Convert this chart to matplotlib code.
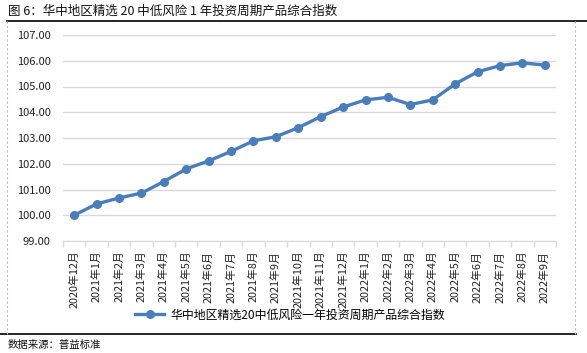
import matplotlib
matplotlib.use("Agg")
from matplotlib import pyplot as plt
from matplotlib.lines import Line2D

plt.rcParams['font.family'] = ['Noto Sans CJK SC', 'DejaVu Sans']

# ───────── DATA ───────── #
months = ["2020年12月", "2021年1月", "2021年2月", "2021年3月", "2021年4月", "2021年5月",
          "2021年6月", "2021年7月", "2021年8月", "2021年9月", "2021年10月", "2021年11月",
          "2021年12月", "2022年1月", "2022年2月", "2022年3月", "2022年4月", "2022年5月",
          "2022年6月", "2022年7月", "2022年8月", "2022年9月"]
index_values = [100.00, 100.44, 100.67, 100.86, 101.31, 101.80,
                102.11, 102.48, 102.89, 103.05, 103.40, 103.83,
                104.20, 104.48, 104.58, 104.30, 104.48, 105.10,
                105.57, 105.81, 105.92, 105.83]
y_ticks = [99, 100, 101, 102, 103, 104, 105, 106, 107]
series_name = "华中地区精选20中低风险一年投资周期产品综合指数"
title = "图 6：华中地区精选 20 中低风险 1 年投资周期产品综合指数"
source = "数据来源：普益标准"
# ──────────────────────── #

W, H = 587, 353
fig = plt.figure(figsize=(W / 100, H / 100), dpi=100)

line_color = "#4a7ebb"
grid_color = "#d9d9d9"

ax = fig.add_axes([63 / W, 1 - 241 / H, (556 - 63) / W, (241 - 35) / H])
x = list(range(len(months)))
ax.plot(x, index_values, color=line_color, lw=2.4, marker="o", ms=5.5, zorder=3)

ax.set_ylim(99, 107)
ax.set_xlim(-0.5, len(months) - 0.5)
ax.set_yticks(y_ticks)
ax.set_yticklabels([f"{v:.2f}" for v in y_ticks], fontsize=8, color="#222222")
ax.tick_params(axis="y", length=0, pad=9)
ax.grid(axis="y", color=grid_color, lw=1)
ax.set_axisbelow(True)

ax.set_xticks(x)
ax.set_xticklabels(months, rotation=90, fontsize=7.8, color="#222222")
ax.tick_params(axis="x", length=0, pad=7)
ax.set_xticks([i - 0.5 for i in range(len(months) + 1)], minor=True)
ax.tick_params(axis="x", which="minor", length=4, color=grid_color, width=1)

for s in ["top", "right", "left"]:
    ax.spines[s].set_visible(False)
ax.spines["bottom"].set_color(grid_color)

# legend
handle = Line2D([], [], color=line_color, lw=2.4, marker="o", ms=5.5)
fig.legend([handle], [series_name], loc="center", bbox_to_anchor=(290 / W, 1 - 315 / H),
           frameon=False, fontsize=8.6, handlelength=2.4, handletextpad=0.5)

# frame lines
fig.add_artist(Line2D([7 / W, 1], [1 - 21 / H] * 2, color="black", lw=1.2))
fig.add_artist(Line2D([0, 576 / W], [1 - 334 / H] * 2, color="black", lw=1.2))
fig.add_artist(Line2D([7 / W] * 2, [1 - 21 / H, 1 - 334 / H], color="#bbbbbb", lw=0.8, ls=(0, (2, 2))))
fig.add_artist(Line2D([575 / W] * 2, [1 - 21 / H, 1 - 334 / H], color="#bbbbbb", lw=0.8, ls=(0, (2, 2))))

fig.text(8 / W, 1 - 11 / H, title, fontsize=9, va="center", ha="left", color="#111111")
fig.text(8 / W, 1 - 345 / H, source, fontsize=7.5, va="center", ha="left", color="#111111")

fig.savefig("out.png", dpi=100)
